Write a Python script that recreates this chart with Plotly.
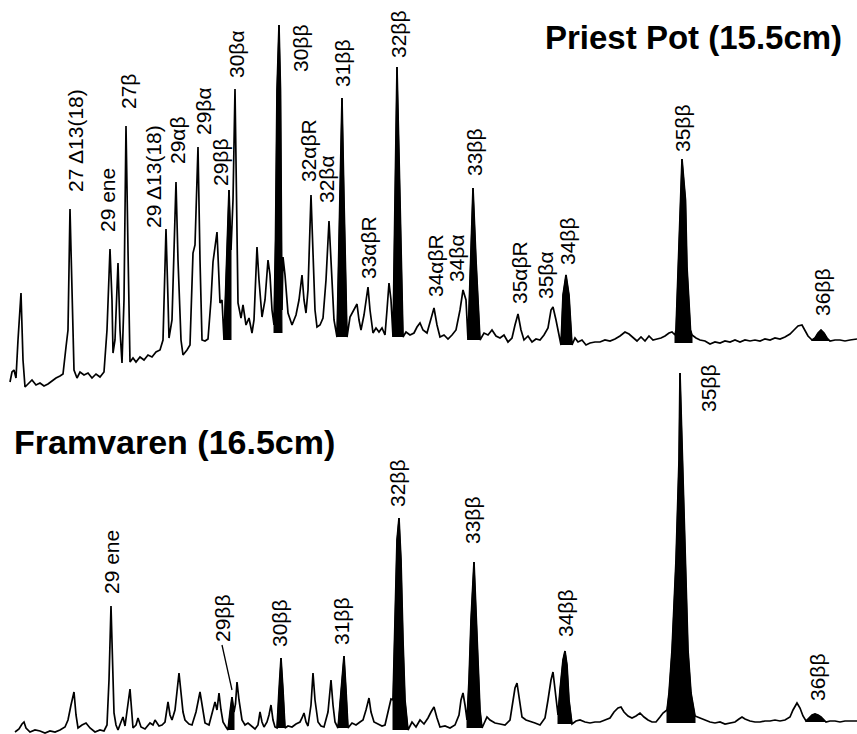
import numpy as np
import plotly.graph_objects as go

# ---------------- Priest Pot (15.5cm) chromatogram ----------------
pp_time = [10, 12, 14, 16, 18, 21, 23, 25, 28, 32, 36, 40, 44, 48, 52, 56, 60, 63, 66, 68,
           70, 72, 74, 77, 80, 84, 88, 92, 96, 100, 104, 107, 110, 112, 113, 115, 118, 120, 122, 124,
           126, 128, 130, 133, 136, 140, 144, 148, 152, 156, 160, 163, 166, 168, 169, 172, 176, 178, 181, 183,
           187, 190, 193, 195, 198, 200, 202, 205, 208, 211, 213, 217, 219, 220, 222, 224, 226, 229, 231, 233,
           235, 237, 238, 241, 243, 246, 249, 252, 254, 257, 259, 262, 265, 268, 270, 272, 274, 275.5, 277, 279,
           280.5, 281.5, 282, 283, 285, 288, 292, 296, 299, 302, 304, 306, 308, 311, 313, 315, 317, 320, 323, 326,
           329, 331, 334, 337, 340, 342, 344, 347, 350, 354, 357, 359, 361, 364, 368, 370, 373, 376, 379, 382,
           385, 387, 389, 391, 393, 395, 397, 400, 403, 406, 410, 414, 417, 420, 423, 427, 431, 434, 437, 440,
           444, 448, 452, 456, 460, 463, 466, 468, 471, 473, 476, 480, 484, 488, 492, 496, 500, 504, 508, 512,
           515, 518, 521, 524, 528, 532, 536, 540, 544, 548, 551, 553, 556, 559, 561, 563, 566, 569, 572, 575,
           578, 582, 586, 590, 595, 600, 605, 610, 615, 620, 625, 629, 633, 637, 641, 645, 649, 653, 657, 661,
           665, 669, 672, 675, 676, 678, 680, 682, 685.5, 687, 690.5, 692, 696, 700, 705, 710, 715, 720, 725, 730,
           735, 740, 745, 750, 755, 760, 765, 770, 775, 780, 785, 790, 794, 798, 802, 805, 808, 812, 815, 818,
           821, 824, 827, 830, 835, 840, 845, 850, 857]
pp_signal = [8, 18, 20, 12, 50, 97, 30, 3, 6, 10, 5, 7, 4, 6, 9, 12, 14, 16, 43, 60,
             181, 90, 20, 12, 18, 15, 17, 12, 16, 13, 18, 60, 141, 90, 37, 50, 127, 60, 27, 90,
             264, 140, 28, 32, 28, 33, 30, 35, 33, 38, 40, 50, 161, 90, 52, 70, 208, 130, 50, 35,
             40, 45, 137, 145, 243, 130, 50, 49, 51, 90, 128, 158, 120, 87, 90, 50, 110, 200, 140, 190,
             301, 140, 87, 72, 85, 65, 72, 57, 70, 143, 110, 73, 90, 130, 115, 80, 65, 150, 300, 365,
             300, 150, 80, 133, 115, 77, 65, 75, 90, 115, 90, 77, 100, 195, 130, 80, 63, 65, 72, 110,
             169, 130, 70, 53, 190, 292, 190, 53, 73, 80, 86, 70, 60, 75, 103, 80, 57, 62, 58, 62,
             55, 80, 107, 90, 53, 190, 323, 190, 53, 58, 55, 57, 63, 67, 60, 57, 70, 82, 65, 53,
             55, 51, 55, 60, 80, 100, 90, 50, 140, 202, 130, 50, 57, 55, 60, 54, 52, 55, 48, 52,
             65, 76, 60, 50, 54, 48, 51, 50, 55, 62, 80, 83, 70, 55, 45, 95, 115, 95, 45, 52,
             48, 50, 45, 47, 48, 48, 50, 49, 51, 54, 58, 56, 52, 49, 53, 49, 54, 50, 51, 52,
             54, 57, 58, 55, 60, 123, 190, 231, 190, 123, 60, 55, 52, 50, 49, 46, 48, 47, 49, 48,
             50, 48, 50, 49, 50, 49, 51, 50, 52, 51, 53, 56, 60, 64, 65, 60, 54, 50, 52, 57,
             60, 57, 52, 49, 50, 50, 49, 50, 51]

# shaded 17β(H),21β(H)-hopanoid peaks: start, end, base level
pp_bb_start = [224, 274, 337, 393, 468, 561, 675, 812]
pp_bb_end = [231, 282, 347, 403, 480, 572, 692, 830]
pp_bb_base = [50, 57, 53, 53, 50, 45, 47, 49]

pp_labels = ["27 Δ13(18)", "29 ene", "27β", "29 Δ13(18)", "29αβ", "29βα", "29ββ", "30βα",
             "30ββ", "32αβR", "32βα", "31ββ", "32ββ", "33αβR", "34αβR", "34βα",
             "33ββ", "35αβR", "35βα", "34ββ", "35ββ", "36ββ"]
pp_label_time = [75, 107, 128, 153, 177, 203, 220, 236,
                 300, 308, 326, 342, 398, 368, 435, 456,
                 474, 519, 545, 567, 682, 822]
pp_label_level = [249, 190, 298, 213, 250, 279, 228, 336,
                  342, 239, 211, 327, 356, 142, 124, 132,
                  238, 117, 115, 149, 262, 98]

# ---------------- Framvaren (16.5cm) chromatogram ----------------
fv_time = [15, 19, 22, 24, 26, 30, 35, 40, 45, 50, 55, 60, 65, 68, 71, 74, 76, 78, 82, 86,
           90, 95, 100, 104, 107, 109, 111, 113, 114, 116, 118, 121, 123, 125, 128, 130, 132, 133, 136, 138,
           141, 145, 150, 153, 155, 159, 162, 165, 168, 170, 172, 175, 179, 181, 183, 185, 189, 192, 196, 200,
           202, 205, 209, 212, 215, 217, 219, 221, 223, 226, 228, 230, 232, 234, 235.5, 237, 239, 242, 245, 248,
           252, 255, 258, 260, 262, 264, 267, 269, 271, 273, 275, 277, 279, 281, 283, 285, 288, 292, 296, 300,
           302, 304, 306, 308, 311, 313, 315, 318, 321, 324, 328, 331, 333, 335, 338, 341, 344, 346, 348, 352,
           356, 360, 363, 366, 369, 371, 374, 378, 382, 385, 388, 391, 393, 395, 397, 399, 401, 403, 405, 408,
           412, 416, 420, 424, 428, 431, 434, 437, 440, 445, 450, 455, 459, 461, 463, 465, 467, 469, 471, 474,
           476, 478, 480, 482, 485, 487, 490, 495, 500, 505, 510, 513, 515, 517, 519, 522, 526, 530, 535, 540,
           545, 548, 551, 553, 555, 557, 558, 560, 563, 565, 567, 569, 572, 576, 580, 585, 590, 595, 600, 605,
           610, 614, 618, 621, 624, 628, 632, 636, 640, 644, 648, 652, 656, 660, 663, 667, 669, 672, 676, 679,
           680, 682.5, 685, 688, 691, 695, 700, 705, 710, 715, 720, 725, 730, 735, 739, 742, 745, 750, 755, 760,
           765, 770, 775, 780, 785, 790, 793, 797, 800, 803, 806, 809, 812, 815, 818, 821, 824, 826, 830, 835,
           840, 845, 850, 857]
fv_signal = [2, 5, 10, 12, 6, 2, 4, 3, 1, 3, 2, 4, 7, 14, 29, 42, 19, 6, 9, 11,
             6, 2, 4, 3, 9, 54, 128, 54, 21, 9, 4, 12, 17, 8, 29, 45, 19, 6, 9, 16,
             7, 5, 11, 9, 14, 8, 9, 12, 32, 19, 14, 24, 61, 44, 22, 14, 10, 9, 22, 42,
             29, 11, 9, 22, 32, 24, 41, 24, 12, 7, 4, 22, 37, 22, 30, 52, 34, 14, 9, 11,
             7, 5, 9, 22, 12, 7, 12, 19, 29, 14, 7, 6, 44, 76, 44, 6, 8, 7, 10, 12,
             16, 21, 12, 8, 29, 61, 34, 12, 8, 7, 22, 54, 29, 12, 6, 44, 78, 44, 6, 11,
             9, 12, 14, 24, 36, 22, 12, 10, 8, 9, 22, 35, 34, 114, 194, 216, 174, 94, 34, 4,
             12, 7, 14, 10, 16, 22, 27, 16, 7, 8, 6, 9, 19, 34, 41, 29, 14, 54, 114, 172,
             124, 64, 24, 6, 12, 17, 14, 11, 10, 9, 14, 34, 46, 51, 39, 17, 14, 13, 11, 9,
             16, 34, 54, 62, 44, 31, 19, 44, 74, 83, 69, 34, 10, 13, 14, 12, 11, 12, 12, 14,
             16, 22, 26, 27, 22, 18, 16, 18, 21, 17, 14, 12, 12, 17, 21, 24, 41, 84, 174, 274,
             361, 274, 174, 84, 41, 18, 16, 14, 12, 11, 12, 10, 11, 12, 15, 17, 15, 13, 12, 12,
             13, 13, 14, 13, 14, 17, 24, 31, 26, 18, 13, 16, 19, 20, 19, 17, 14, 12, 13, 13,
             12, 13, 13, 13]

fv_bb_start = [228, 277, 338, 393, 467, 558, 667, 806]
fv_bb_end = [234, 285, 348, 408, 482, 572, 695, 826]
fv_bb_base = [4, 6, 6, 4, 6, 10, 11, 12]

fv_labels = ["29 ene", "29ββ", "30ββ", "31ββ", "32ββ", "33ββ", "34ββ", "35ββ", "36ββ"]
fv_label_time = [111, 222, 279, 341, 397, 472, 565, 708, 817]
fv_label_level = [172, 116, 111, 113, 251, 214, 121, 346, 57]

# pointer from the 29ββ label down to its peak
fv_pointer_time = [222, 232]
fv_pointer_level = [89, 44]

panel_titles = ["Priest Pot (15.5cm)", "Framvaren (16.5cm)"]

INK = "#000000"
FONT = "Liberation Sans, Arial, Helvetica, sans-serif"
LABEL_SIZE = 21

fig = go.Figure()


def add_panel(t, s, starts, ends, bases, xa, ya):
    t = np.asarray(t, dtype=float)
    s = np.asarray(s, dtype=float)
    # black filled ββ peaks, traced along the chromatogram between their bounds
    for lo, hi, base in zip(starts, ends, bases):
        m = (t >= lo) & (t <= hi)
        xs = np.concatenate([[lo], t[m], [hi]])
        ys = np.concatenate([[base], s[m], [base]])
        fig.add_trace(go.Scatter(x=xs, y=ys, mode="lines", fill="toself",
                                 fillcolor=INK, line=dict(color=INK, width=1),
                                 xaxis=xa, yaxis=ya, hoverinfo="skip", showlegend=False))
    fig.add_trace(go.Scatter(x=t, y=s, mode="lines",
                             line=dict(color=INK, width=1.7, shape="linear"),
                             xaxis=xa, yaxis=ya, showlegend=False))


add_panel(pp_time, pp_signal, pp_bb_start, pp_bb_end, pp_bb_base, "x", "y")
add_panel(fv_time, fv_signal, fv_bb_start, fv_bb_end, fv_bb_base, "x2", "y2")

fig.add_trace(go.Scatter(x=fv_pointer_time, y=fv_pointer_level, mode="lines",
                         line=dict(color=INK, width=1.3), xaxis="x2", yaxis="y2",
                         hoverinfo="skip", showlegend=False))

annotations = []
for name, xt, yl in zip(pp_labels, pp_label_time, pp_label_level):
    annotations.append(dict(x=xt, y=yl, xref="x", yref="y", text=name, textangle=-90,
                            showarrow=False, xanchor="center", yanchor="middle",
                            font=dict(family=FONT, size=LABEL_SIZE, color=INK)))
for name, xt, yl in zip(fv_labels, fv_label_time, fv_label_level):
    annotations.append(dict(x=xt, y=yl, xref="x2", yref="y2", text=name, textangle=-90,
                            showarrow=False, xanchor="center", yanchor="middle",
                            font=dict(family=FONT, size=LABEL_SIZE, color=INK)))

annotations.append(dict(x=844 / 857, y=1 - 38 / 734, xref="paper", yref="paper",
                        text="<b>" + panel_titles[0] + "</b>", showarrow=False,
                        xanchor="right", yanchor="middle",
                        font=dict(family=FONT, size=33, color=INK)))
annotations.append(dict(x=12 / 857, y=1 - 442 / 734, xref="paper", yref="paper",
                        text="<b>" + panel_titles[1] + "</b>", showarrow=False,
                        xanchor="left", yanchor="middle",
                        font=dict(family=FONT, size=34, color=INK)))

# both panels use one pixel per signal unit; the lower panel's axis reaches up
# far enough to hold its tallest label
H = 734
top_rows = 390
bottom_rows = 384
hidden = dict(visible=False, showgrid=False, zeroline=False, fixedrange=True)
fig.update_layout(
    width=857, height=H, autosize=False,
    margin=dict(l=0, r=0, t=0, b=0),
    paper_bgcolor="white", plot_bgcolor="rgba(0,0,0,0)",
    xaxis=dict(range=[0, 857], domain=[0, 1], anchor="y", **hidden),
    yaxis=dict(range=[0, top_rows], domain=[1 - top_rows / H, 1], anchor="x", **hidden),
    xaxis2=dict(range=[0, 857], domain=[0, 1], anchor="y2", **hidden),
    yaxis2=dict(range=[0, bottom_rows], domain=[0, bottom_rows / H], anchor="x2", **hidden),
    annotations=annotations,
    showlegend=False,
)

fig.write_html("out.html")
